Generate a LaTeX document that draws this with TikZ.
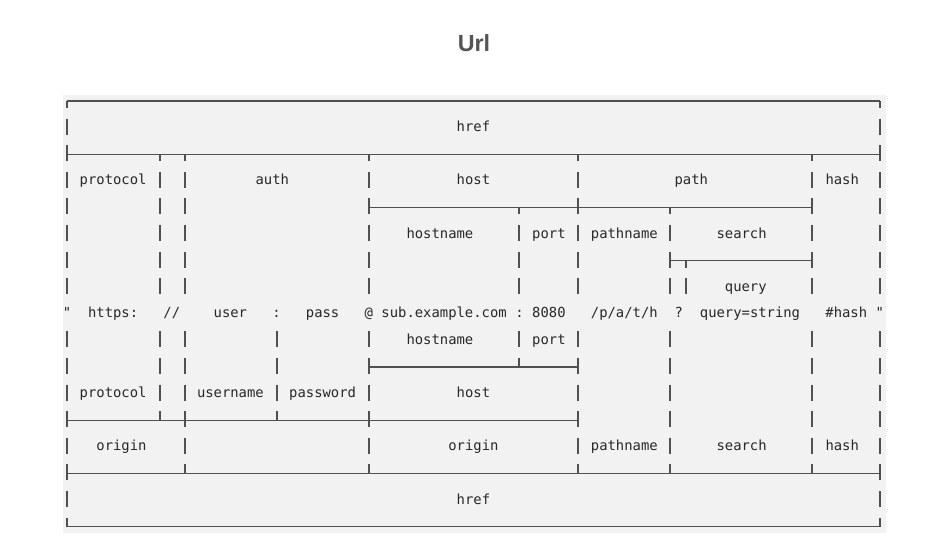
\documentclass[tikz,border=0pt]{standalone}
\usepackage{fontspec}
\setmainfont{Liberation Sans}
\setmonofont{DejaVu Sans Mono}

\definecolor{panelgray}{RGB}{242,242,242}
\definecolor{rulegray}{RGB}{80,80,80}
\definecolor{textgray}{RGB}{40,40,40}
\definecolor{titlegray}{RGB}{85,85,85}

\tikzset{every picture/.style={line width=0.75pt}}
\tikzset{
  rule/.style={draw=rulegray, line width=0.9pt},
  lbl/.style={font=\ttfamily\fontsize{10.4}{12}\selectfont, text=textgray, anchor=base, inner sep=0pt},
}

\begin{document}
\begin{tikzpicture}[x=0.75pt,y=0.75pt,yscale=-1,xscale=1]
\useasboundingbox (0,0) rectangle (931,554);

%Title
\node[font=\bfseries\fontsize{17.5}{20}\selectfont, text=titlegray] (title) at (474,43) {Url};

%Shape: Rectangle [panel]
\fill[panelgray] (63,95) rectangle (886,533);

%Horizontal rules
\draw[rule] (67,101) -- (880,101);
\draw[rule] (67,154.2) -- (880,154.2);
\draw[rule] (369,207.4) -- (812,207.4);
\draw[rule] (670,260.6) -- (812,260.6);
\draw[rule] (369,367) -- (578,367);
\draw[rule] (67,420.2) -- (578,420.2);
\draw[rule] (67,473.4) -- (880,473.4);
\draw[rule] (67,526.6) -- (880,526.6);

%Vertical bars, one per text row
\foreach \x/\rws in {67/{1,2,3,4,5,6,7,9,10,11,12,13,14,15},
                     160/{3,4,5,6,7,9,10,11},
                     185/{3,4,5,6,7,9,10,11,12,13},
                     277/{9,10,11},
                     369/{3,4,5,6,7,9,10,11,12,13},
                     519/{5,6,7,9},
                     578/{3,4,5,6,7,9,10,11,12,13},
                     670/{5,6,7,9,10,11,12,13},
                     686/{7},
                     812/{3,4,5,6,7,9,10,11,12,13},
                     880/{1,2,3,4,5,6,7,9,10,11,12,13,14,15}}
  \foreach \r in \rws
    \draw[rule] (\x,{101+26.6*\r-9}) -- (\x,{101+26.6*\r+7});

%Junction ticks below a rule
\foreach \x/\r in {67/0, 880/0, 160/2, 185/2, 369/2, 578/2, 812/2, 519/4, 670/4, 686/6}
  \draw[rule] (\x,{101+26.6*\r}) -- (\x,{101+26.6*\r+7});
%Junction ticks above a rule
\foreach \x/\r in {519/10, 160/12, 277/12, 185/14, 369/14, 578/14, 670/14, 812/14, 67/16, 880/16}
  \draw[rule] (\x,{101+26.6*\r-9}) -- (\x,{101+26.6*\r});

%Labels, upper half
\node[lbl] (href1) at (473.4,131.6) {href};
\node[lbl] (protocol1) at (113.1,184.8) {protocol};
\node[lbl] (auth) at (272.3,184.8) {auth};
\node[lbl] (host1) at (473.4,184.8) {host};
\node[lbl] (path) at (691.3,184.8) {path};
\node[lbl] (hash1) at (842.2,184.8) {hash};
\node[lbl] (hostname1) at (439.9,238) {hostname};
\node[lbl] (port1) at (548.9,238) {port};
\node[lbl] (pathname1) at (624.3,238) {pathname};
\node[lbl] (search1) at (741.6,238) {search};
\node[lbl] (query) at (745.8,291.2) {query};

%The url string
\node[lbl] (qopen) at (67,317.8) {"};
\node[lbl] (https) at (113.1,317.8) {https:};
\node[lbl] (slashes) at (171.8,317.8) {//};
\node[lbl] (user) at (230.4,317.8) {user};
\node[lbl] (colonA) at (276.5,317.8) {:};
\node[lbl] (pass) at (322.6,317.8) {pass};
\node[lbl] (at) at (368.7,317.8) {@};
\node[lbl] (sub) at (444.1,317.8) {sub.example.com};
\node[lbl] (colonB) at (519.5,317.8) {:};
\node[lbl] (portnum) at (548.9,317.8) {8080};
\node[lbl] (pathstr) at (624.3,317.8) {/p/a/t/h};
\node[lbl] (qmark) at (678.7,317.8) {?};
\node[lbl] (querystr) at (750,317.8) {query=string};
\node[lbl] (hashstr) at (846.3,317.8) {\#hash};
\node[lbl] (qclose) at (879.9,317.8) {"};

%Labels, lower half
\node[lbl] (hostname2) at (439.9,344.4) {hostname};
\node[lbl] (port2) at (548.9,344.4) {port};
\node[lbl] (protocol2) at (113.1,397.6) {protocol};
\node[lbl] (username) at (230.4,397.6) {username};
\node[lbl] (password) at (322.6,397.6) {password};
\node[lbl] (host2) at (473.4,397.6) {host};
\node[lbl] (origin1) at (121.5,450.8) {origin};
\node[lbl] (origin2) at (473.4,450.8) {origin};
\node[lbl] (pathname2) at (624.3,450.8) {pathname};
\node[lbl] (search2) at (741.6,450.8) {search};
\node[lbl] (hash2) at (842.2,450.8) {hash};
\node[lbl] (href2) at (473.4,504) {href};

\end{tikzpicture}
\end{document}
